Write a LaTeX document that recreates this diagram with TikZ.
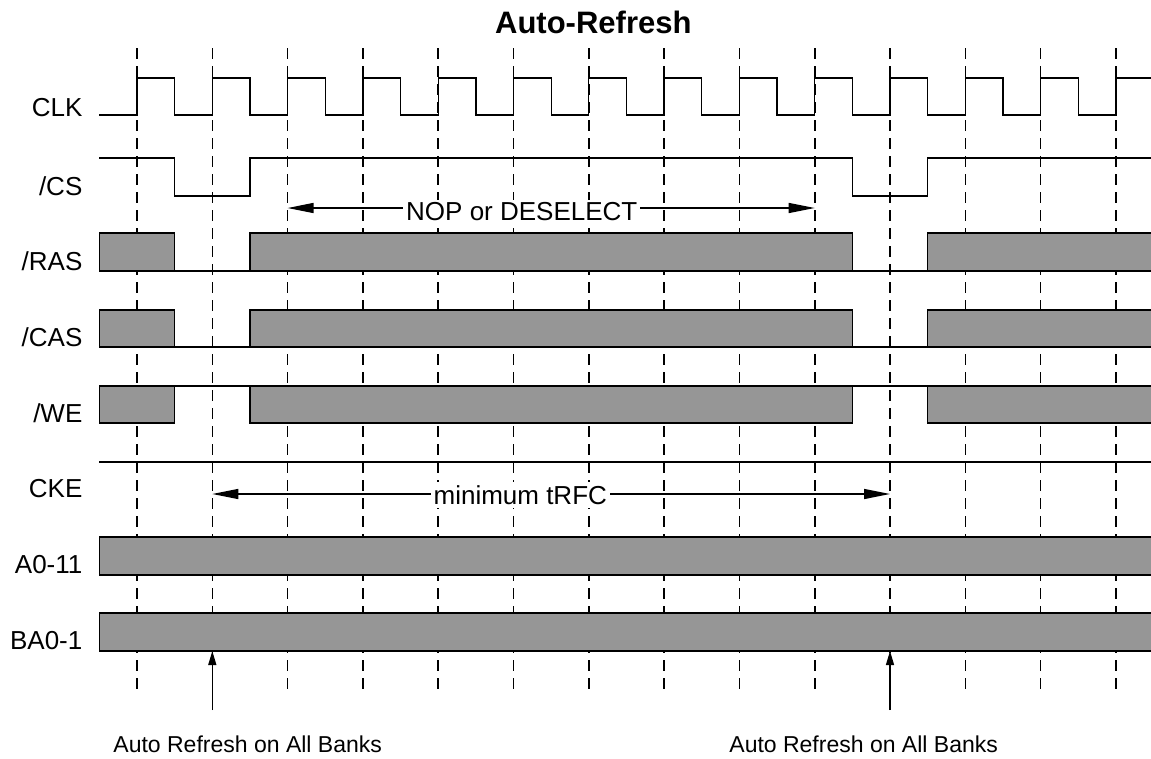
\documentclass[tikz,border=0pt]{standalone}
\usepackage{fontspec}
\setmainfont{Liberation Sans}
\usetikzlibrary{arrows.meta}
\definecolor{busgray}{RGB}{150,150,150}

\begin{document}
\begin{tikzpicture}[x=75.3pt,y=-1pt,line width=1.3pt,
        siglabel/.style={anchor=base east,inner sep=0pt,font=\fontsize{26}{30}\selectfont},
        bus/.style={draw=black,fill=busgray},
        clkline/.style={line width=1.6pt,dash pattern=on 11pt off 7pt},
        spanarrow/.style={{Triangle[length=26pt,width=10pt]}-{Triangle[length=26pt,width=10pt]}},
        uparrow/.style={-{Triangle[length=14pt,width=8pt]}},
        spantext/.style={fill=white,inner sep=3pt,font=\fontsize{26}{30}\selectfont}]
        \useasboundingbox (-1.8194,0) rectangle (13.466,758);
        \clip (-1.8194,0) rectangle (13.466,758);
        %#####################################################
        % clock grid
        \foreach \t in {0,...,13}{
        \draw[clkline] (\t,48) -- (\t,692);
        }
        %#####################################################
        % signal names
        \node[siglabel] (lclk) at (-0.717,116) {CLK};
        \node[siglabel] (lcs) at (-0.717,195) {/CS};
        \node[siglabel] (lras) at (-0.717,270) {/RAS};
        \node[siglabel] (lcas) at (-0.717,346) {/CAS};
        \node[siglabel] (lwe) at (-0.717,422) {/WE};
        \node[siglabel] (lcke) at (-0.717,497) {CKE};
        \node[siglabel] (la) at (-0.717,573) {A0-11};
        \node[siglabel] (lba) at (-0.717,649) {BA0-1};
        %#####################################################
        % CLK and /CS
        \draw (-0.5,115) -- (0,115)
        \foreach \t in {0,...,13}{ -- (\t,78) -- (\t+0.5,78) -- (\t+0.5,115) -- (\t+1,115)};
        \draw (-0.5,158) -- (0.5,158) -- (0.5,196) -- (1.5,196) -- (1.5,158)
        -- (9.5,158) -- (9.5,196) -- (10.5,196) -- (10.5,158) -- (13.6,158);
        %#####################################################
        % /RAS /CAS /WE
        \foreach \top/\bot/\gap in {233/271/271,310/347/347,386/423/386}{
        \draw[bus] (-0.5,\top) rectangle (0.5,\bot);
        \draw[bus] (1.5,\top) rectangle (9.5,\bot);
        \draw[bus] (10.5,\top) rectangle (13.6,\bot);
        \draw (0.5,\gap) -- (1.5,\gap);
        \draw (9.5,\gap) -- (10.5,\gap);
        }
        % CKE, A0-11, BA0-1
        \draw (-0.5,462) -- (13.6,462);
        \draw[bus] (-0.5,537) rectangle (13.6,575);
        \draw[bus] (-0.5,613) rectangle (13.6,651);
        %#####################################################
        % spans
        \coordinate (nopl) at (2,208);
        \coordinate (nopr) at (9,208);
        \draw[spanarrow] (nopl) -- (nopr);
        \node[spantext] (nop) at (5.11,212) {NOP or DESELECT};
        \coordinate (rfcl) at (1,494);
        \coordinate (rfcr) at (10,494);
        \draw[spanarrow] (rfcl) -- (rfcr);
        \node[spantext] (rfc) at (5.09,495) {minimum tRFC};
        %#####################################################
        % refresh commands
        \coordinate (ref1) at (1,710);
        \coordinate (ref1t) at (1,651);
        \coordinate (ref2) at (10,710);
        \coordinate (ref2t) at (10,651);
        \draw[uparrow] (ref1) -- (ref1t);
        \draw[uparrow] (ref2) -- (ref2t);
        \node[anchor=base,inner sep=0pt,font=\fontsize{23}{27}\selectfont] (cmd1) at (1.47,752) {Auto Refresh on All Banks};
        \node[anchor=base,inner sep=0pt,font=\fontsize{23}{27}\selectfont] (cmd2) at (9.65,752) {Auto Refresh on All Banks};
        \node[anchor=base,inner sep=0pt,font=\bfseries\fontsize{31}{36}\selectfont] (title) at (6.06,33) {Auto-Refresh};
\end{tikzpicture}
\end{document}
